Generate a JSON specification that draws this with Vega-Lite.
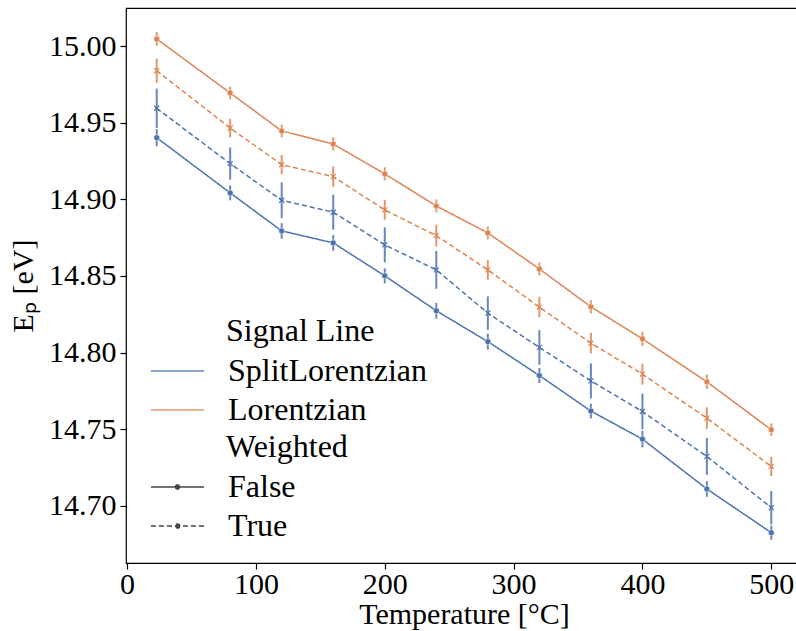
{
  "$schema": "https://vega.github.io/schema/vega-lite/v6.json",
  "width": 676,
  "height": 555,
  "autosize": {"type": "none"},
  "padding": {"left": 126, "top": 8, "right": 0, "bottom": 68},
  "background": "white",
  "config": {
    "view": {"stroke": "black", "strokeWidth": 1.2},
    "font": "Liberation Serif",
    "axis": {
      "labelFont": "Liberation Serif",
      "titleFont": "Liberation Serif",
      "labelFontSize": 30,
      "titleFontSize": 30,
      "titleFontWeight": "normal",
      "labelColor": "black",
      "titleColor": "black",
      "tickColor": "black",
      "tickSize": 6,
      "tickWidth": 1.2,
      "domain": false,
      "grid": false
    },
    "legend": {
      "labelFont": "Liberation Serif",
      "titleFont": "Liberation Serif",
      "labelFontSize": 32,
      "titleFontSize": 32,
      "titleFontWeight": "normal",
      "labelColor": "black",
      "titleColor": "black",
      "labelLimit": 400,
      "padding": 0,
      "rowPadding": 7,
      "titlePadding": 7,
      "symbolType": "M-1.77,0L1.77,0",
      "symbolSize": 900,
      "symbolStrokeWidth": 1.5,
      "symbolOffset": -64.5,
      "labelOffset": 34.5
    }
  },
  "data": {
    "values": [
      {"T": 23, "E": 14.9402, "err": 0.0056, "signal": "SplitLorentzian", "weighted": "False"},
      {"T": 80, "E": 14.9042, "err": 0.0048, "signal": "SplitLorentzian", "weighted": "False"},
      {"T": 120, "E": 14.8794, "err": 0.0051, "signal": "SplitLorentzian", "weighted": "False"},
      {"T": 160, "E": 14.8716, "err": 0.0051, "signal": "SplitLorentzian", "weighted": "False"},
      {"T": 200, "E": 14.8501, "err": 0.0049, "signal": "SplitLorentzian", "weighted": "False"},
      {"T": 240, "E": 14.8273, "err": 0.0051, "signal": "SplitLorentzian", "weighted": "False"},
      {"T": 280, "E": 14.8072, "err": 0.0052, "signal": "SplitLorentzian", "weighted": "False"},
      {"T": 320, "E": 14.7851, "err": 0.0049, "signal": "SplitLorentzian", "weighted": "False"},
      {"T": 360, "E": 14.7619, "err": 0.0048, "signal": "SplitLorentzian", "weighted": "False"},
      {"T": 400, "E": 14.7436, "err": 0.0054, "signal": "SplitLorentzian", "weighted": "False"},
      {"T": 450, "E": 14.7111, "err": 0.0051, "signal": "SplitLorentzian", "weighted": "False"},
      {"T": 500, "E": 14.6826, "err": 0.0046, "signal": "SplitLorentzian", "weighted": "False"},
      {"T": 23, "E": 14.9594, "err": 0.0128, "signal": "SplitLorentzian", "weighted": "True"},
      {"T": 80, "E": 14.9233, "err": 0.0105, "signal": "SplitLorentzian", "weighted": "True"},
      {"T": 120, "E": 14.8994, "err": 0.0117, "signal": "SplitLorentzian", "weighted": "True"},
      {"T": 160, "E": 14.8916, "err": 0.0114, "signal": "SplitLorentzian", "weighted": "True"},
      {"T": 200, "E": 14.8703, "err": 0.0114, "signal": "SplitLorentzian", "weighted": "True"},
      {"T": 240, "E": 14.854, "err": 0.0123, "signal": "SplitLorentzian", "weighted": "True"},
      {"T": 280, "E": 14.8258, "err": 0.0109, "signal": "SplitLorentzian", "weighted": "True"},
      {"T": 320, "E": 14.8034, "err": 0.0113, "signal": "SplitLorentzian", "weighted": "True"},
      {"T": 360, "E": 14.7816, "err": 0.0114, "signal": "SplitLorentzian", "weighted": "True"},
      {"T": 400, "E": 14.7616, "err": 0.0117, "signal": "SplitLorentzian", "weighted": "True"},
      {"T": 450, "E": 14.7323, "err": 0.012, "signal": "SplitLorentzian", "weighted": "True"},
      {"T": 500, "E": 14.6989, "err": 0.0109, "signal": "SplitLorentzian", "weighted": "True"},
      {"T": 23, "E": 15.0046, "err": 0.0045, "signal": "Lorentzian", "weighted": "False"},
      {"T": 80, "E": 14.9694, "err": 0.0041, "signal": "Lorentzian", "weighted": "False"},
      {"T": 120, "E": 14.9446, "err": 0.0041, "signal": "Lorentzian", "weighted": "False"},
      {"T": 160, "E": 14.9361, "err": 0.0043, "signal": "Lorentzian", "weighted": "False"},
      {"T": 200, "E": 14.9166, "err": 0.0043, "signal": "Lorentzian", "weighted": "False"},
      {"T": 240, "E": 14.8957, "err": 0.0042, "signal": "Lorentzian", "weighted": "False"},
      {"T": 280, "E": 14.8781, "err": 0.0042, "signal": "Lorentzian", "weighted": "False"},
      {"T": 320, "E": 14.8546, "err": 0.0043, "signal": "Lorentzian", "weighted": "False"},
      {"T": 360, "E": 14.8299, "err": 0.0043, "signal": "Lorentzian", "weighted": "False"},
      {"T": 400, "E": 14.809, "err": 0.0046, "signal": "Lorentzian", "weighted": "False"},
      {"T": 450, "E": 14.781, "err": 0.0047, "signal": "Lorentzian", "weighted": "False"},
      {"T": 500, "E": 14.7497, "err": 0.0041, "signal": "Lorentzian", "weighted": "False"},
      {"T": 23, "E": 14.9839, "err": 0.0079, "signal": "Lorentzian", "weighted": "True"},
      {"T": 80, "E": 14.9465, "err": 0.006, "signal": "Lorentzian", "weighted": "True"},
      {"T": 120, "E": 14.9226, "err": 0.0063, "signal": "Lorentzian", "weighted": "True"},
      {"T": 160, "E": 14.9148, "err": 0.0067, "signal": "Lorentzian", "weighted": "True"},
      {"T": 200, "E": 14.8931, "err": 0.0064, "signal": "Lorentzian", "weighted": "True"},
      {"T": 240, "E": 14.8763, "err": 0.0071, "signal": "Lorentzian", "weighted": "True"},
      {"T": 280, "E": 14.854, "err": 0.0065, "signal": "Lorentzian", "weighted": "True"},
      {"T": 320, "E": 14.8297, "err": 0.0067, "signal": "Lorentzian", "weighted": "True"},
      {"T": 360, "E": 14.8062, "err": 0.0067, "signal": "Lorentzian", "weighted": "True"},
      {"T": 400, "E": 14.786, "err": 0.0068, "signal": "Lorentzian", "weighted": "True"},
      {"T": 450, "E": 14.7573, "err": 0.007, "signal": "Lorentzian", "weighted": "True"},
      {"T": 500, "E": 14.7258, "err": 0.0063, "signal": "Lorentzian", "weighted": "True"}
    ]
  },
  "encoding": {
    "x": {
      "field": "T",
      "type": "quantitative",
      "scale": {"domain": [-0.85, 523.85], "nice": false, "zero": false},
      "axis": {"values": [0, 100, 200, 300, 400, 500], "format": "d", "title": "Temperature [°C]", "titlePadding": 0, "labelPadding": 0}
    },
    "y": {
      "field": "E",
      "type": "quantitative",
      "scale": {"domain": [14.6628, 15.0248], "nice": false, "zero": false},
      "axis": {"values": [14.7, 14.75, 14.8, 14.85, 14.9, 14.95, 15.0], "format": ".2f", "title": "Eₚ [eV]", "titlePadding": 10, "labelPadding": 4}
    },
    "color": {
      "field": "signal",
      "type": "nominal",
      "scale": {"domain": ["SplitLorentzian", "Lorentzian"], "range": ["#4c72b0", "#dd8452"]},
      "legend": {"title": "Signal Line", "orient": "none", "legendX": 100, "legendY": 308}
    }
  },
  "layer": [
    {
      "mark": {"type": "errorbar", "thickness": 2, "opacity": 0.85},
      "encoding": {"yError": {"field": "err"}, "detail": {"field": "weighted"}}
    },
    {
      "mark": {"type": "line", "strokeWidth": 1.5},
      "encoding": {
        "strokeDash": {
          "field": "weighted",
          "type": "nominal",
          "scale": {"domain": ["False", "True"], "range": [[1, 0], [5, 3]]},
          "legend": {
            "title": "Weighted",
            "orient": "none",
            "legendX": 100,
            "legendY": 424,
            "symbolStrokeColor": "#444444",
            "symbolFillColor": "#444444",
            "symbolType": "M-1.77,0L1.77,0M0.14,0A0.14,0.14,0,1,1,-0.14,0A0.14,0.14,0,1,1,0.14,0"
          }
        }
      }
    },
    {
      "transform": [{"filter": "datum.weighted == 'False'"}],
      "mark": {"type": "point", "shape": "circle", "filled": true, "size": 36, "opacity": 1, "stroke": "white", "strokeWidth": 0.5}
    },
    {
      "transform": [{"filter": "datum.weighted == 'True'"}],
      "mark": {"type": "point", "shape": "M-1,-1L1,1M-1,1L1,-1", "filled": false, "size": 25, "opacity": 1, "strokeWidth": 1.2}
    }
  ]
}
